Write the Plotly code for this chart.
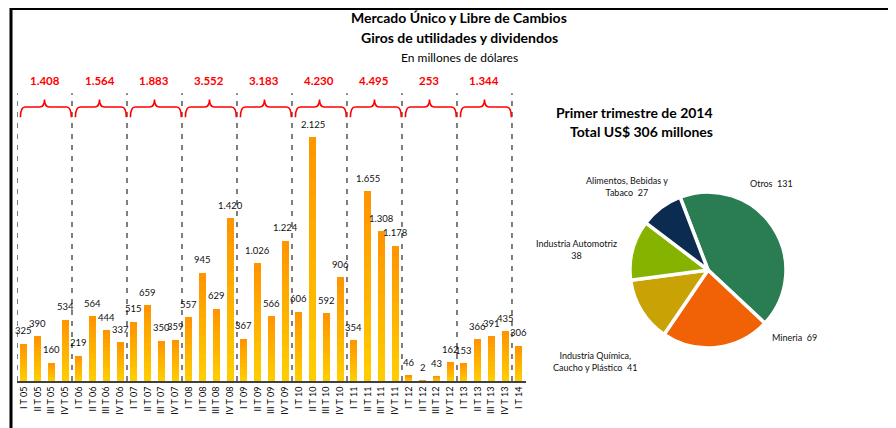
import plotly.graph_objects as go

# ---------------- data ----------------
quarters = ["I", "II", "III", "IV"]
years = ["05", "06", "07", "08", "09", "10", "11", "12", "13", "14"]
categories = [f"{q} T {y}" for y in years[:-1] for q in quarters] + ["I T 14"]
values = [325, 390, 160, 534,
          219, 564, 444, 337,
          515, 659, 350, 359,
          557, 945, 629, 1420,
          367, 1026, 566, 1224,
          606, 2125, 592, 906,
          354, 1655, 1308, 1178,
          46, 2, 43, 162,
          153, 366, 391, 435,
          306]
year_totals = [1408, 1564, 1883, 3552, 3183, 4230, 4495, 253, 1344]

pie_labels = ["Otros", "Mineria", "Industria Química, Caucho y Plástico",
              "Industria Automotriz", "Alimentos, Bebidas y Tabaco"]
pie_values = [131, 69, 41, 38, 27]
pie_text = ["Otros  131", "Mineria  69",
            "Industria Química,<br>Caucho y Plástico  41",
            "Industria Automotriz<br>38",
            "Alimentos, Bebidas y<br>Tabaco  27"]

W, H = 896, 428
OFF = 8  # page body margin
FONT = "Lato"


def fmt(v):
    return f"{v:,}".replace(",", ".")


def px_x(p):
    return (p - OFF) / W


def px_y(p):
    return 1 - (p - OFF) / H


fig = go.Figure()

# gradient bars via stacked segments (yellow bottom -> orange top)
N = 12
c_bot = (255, 204, 0)
c_top = (255, 150, 0)
for k in range(N):
    t = k / (N - 1)
    col = tuple(round(c_bot[i] + (c_top[i] - c_bot[i]) * t) for i in range(3))
    fig.add_trace(go.Bar(
        x=categories, y=[v / N for v in values],
        marker=dict(color=f"rgb{col}", line=dict(width=0)),
        width=0.5, showlegend=False, hoverinfo="skip"))

fig.update_layout(barmode="stack", bargap=0)

# value labels
annotations = []
for c, v in zip(categories, values):
    annotations.append(dict(x=c, y=v, xref="x", yref="y", text=fmt(v),
                            showarrow=False, yanchor="middle", yshift=13,
                            font=dict(family=FONT, size=9.5, color="#111")))

# year separators, braces and totals
shapes = []
n_years = len(year_totals)
for k in range(n_years + 1):
    b = -0.5 + 4 * k
    shapes.append(dict(type="line", xref="x", yref="y", x0=b, x1=b, y0=0, y1=2510,
                       line=dict(color="#555555", width=1.5, dash="5px,6px")))
for k, tot in enumerate(year_totals):
    b = -0.5 + 4 * k
    x0, x1, xc = b + 0.25, b + 3.95, b + 2
    ye, yh, yp = 2300, 2390, 2455
    d = 0.35
    path = (f"M {x0},{ye} Q {x0},{yh} {x0+d},{yh} L {xc-d},{yh} "
            f"Q {xc},{yh} {xc},{yp} Q {xc},{yh} {xc+d},{yh} "
            f"L {x1-d},{yh} Q {x1},{yh} {x1},{ye}")
    shapes.append(dict(type="path", xref="x", yref="y", path=path,
                       line=dict(color="#FF0000", width=1.6)))
    annotations.append(dict(x=xc, y=px_y(80), xref="x", yref="paper", text=f"<b>{fmt(tot)}</b>",
                            showarrow=False, yanchor="middle",
                            font=dict(family=FONT, size=11.5, color="#FF0000")))

# frame lines
shapes.append(dict(type="line", xref="paper", yref="paper", x0=px_x(11), x1=1,
                   y0=px_y(8.5), y1=px_y(8.5), line=dict(color="#000", width=3)))
shapes.append(dict(type="line", xref="paper", yref="paper", x0=px_x(11), x1=px_x(11),
                   y0=px_y(8), y1=0, line=dict(color="#000", width=3)))

# titles
for txt, y, bold, sz in [("Mercado Único y Libre de Cambios", 17, True, 14),
                         ("Giros de utilidades y dividendos", 37, True, 14),
                         ("En millones de dólares", 57, False, 12)]:
    annotations.append(dict(x=px_x(459), y=px_y(y), xref="paper", yref="paper",
                            text=f"<b>{txt}</b>" if bold else txt, showarrow=False,
                            yanchor="middle", font=dict(family=FONT, size=sz, color="#000")))
for txt, y in [("Primer trimestre de 2014", 113), ("Total US$ 306 millones", 131)]:
    annotations.append(dict(x=px_x(715), y=px_y(y), xref="paper", yref="paper",
                            text=f"<b>{txt}</b>", showarrow=False, yanchor="middle",
                            font=dict(family=FONT, size=14, color="#000")))

# pie
pie_colors = ["#2A7D52", "#F06205", "#C9A206", "#86B300", "#0B2B50"]
fig.add_trace(go.Pie(
    labels=pie_labels, values=pie_values, sort=False, direction="clockwise",
    rotation=-21, textinfo="none", hoverinfo="label+value",
    marker=dict(colors=pie_colors, line=dict(color="white", width=3.5)),
    domain=dict(x=[px_x(630), px_x(786)], y=[px_y(348), px_y(192)]),
    showlegend=False))

pie_label_pos = [(771, 183), (794, 337), (595, 361), (576, 249), (627, 186)]
for txt, (lx, ly) in zip(pie_text, pie_label_pos):
    annotations.append(dict(x=px_x(lx), y=px_y(ly), xref="paper", yref="paper",
                            text=txt, showarrow=False, xanchor="center", yanchor="middle",
                            font=dict(family=FONT, size=9, color="#111")))

fig.update_layout(
    width=W, height=H, autosize=False,
    margin=dict(l=0, r=0, t=0, b=0),
    paper_bgcolor="white", plot_bgcolor="white",
    xaxis=dict(domain=[px_x(17), px_x(526)], range=[-0.5, 36.52], type="category",
               showline=True, linecolor="#404040", linewidth=2, ticks="",
               tickangle=-90, tickfont=dict(family=FONT, size=9, color="#000"),
               showgrid=False, zeroline=False, fixedrange=True),
    yaxis=dict(domain=[px_y(381), px_y(60)], range=[0, 2800], visible=False,
               showgrid=False, zeroline=False, fixedrange=True),
    shapes=shapes, annotations=annotations,
)

fig.write_html("out.html")
